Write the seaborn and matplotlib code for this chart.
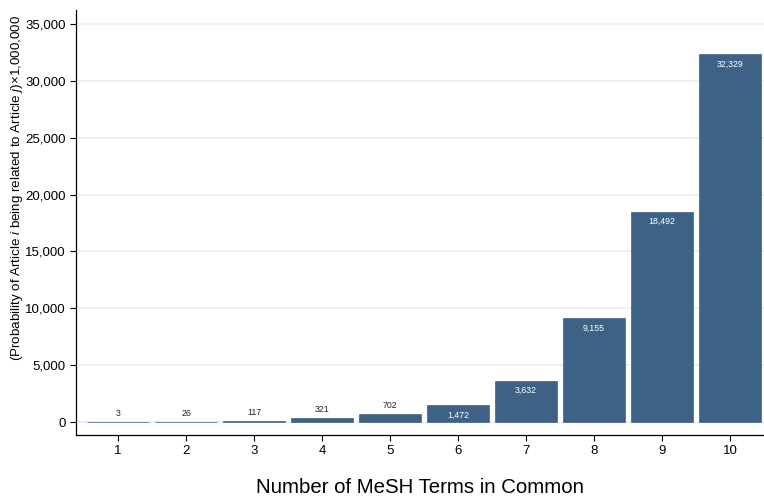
import matplotlib
matplotlib.use("Agg")
import matplotlib.pyplot as plt
import seaborn as sns
import pandas as pd

terms = ["1", "2", "3", "4", "5", "6", "7", "8", "9", "10"]
probability = [3, 26, 117, 321, 702, 1472, 3632, 9155, 18492, 32329]
y_ticks = [0, 5000, 10000, 15000, 20000, 25000, 30000, 35000]

sns.set_theme(style="white")
plt.rcParams['font.family'] = ['Liberation Sans', 'DejaVu Sans']
plt.rcParams['mathtext.fontset'] = 'custom'
plt.rcParams['mathtext.rm'] = 'Liberation Sans'
plt.rcParams['mathtext.it'] = 'Liberation Sans:italic'
plt.rcParams['text.color'] = 'black'
plt.rcParams['axes.labelcolor'] = 'black'
plt.rcParams['xtick.color'] = 'black'
plt.rcParams['ytick.color'] = 'black'

df = pd.DataFrame({"terms": terms, "prob": probability})

fig = plt.figure(figsize=(7.64, 4.96), dpi=100)
ax = fig.add_axes([76/764, 61/496, 688/764, 425/496])

for t in y_ticks:
    ax.axhline(t, color="#e9eef3", lw=1.2, zorder=0)

sns.barplot(data=df, x="terms", y="prob", color="#3d6285", saturation=1,
            width=0.92, ax=ax, zorder=2, edgecolor="#3d6285", linewidth=0.5)

ax.set_xlim(-0.62, 9.5)
ax.set_ylim(-1143, 36230)
ax.set_yticks(y_ticks)
ax.set_yticklabels([f"{v:,}" for v in y_ticks], fontsize=9.5)
ax.tick_params(axis="x", labelsize=9.5, length=4, width=0.8, color="black", bottom=True)
ax.tick_params(axis="y", length=4, width=0.8, color="black", left=True)

for i, v in enumerate(probability):
    if v < 1000:
        ax.annotate(f"{v:,}", (i, v), xytext=(0, 3), textcoords="offset points",
                    ha="center", va="bottom", fontsize=6.3, color="#222222")
    else:
        ax.annotate(f"{v:,}", (i, v), xytext=(0, -4), textcoords="offset points",
                    ha="center", va="top", fontsize=6.3, color="white")

for s in ["top", "right"]:
    ax.spines[s].set_visible(False)
for s in ["left", "bottom"]:
    ax.spines[s].set_color("black")
    ax.spines[s].set_linewidth(0.9)

ax.set_xlabel("Number of MeSH Terms in Common", fontsize=14.7, labelpad=14.5)
ax.set_ylabel(r"(Probability of Article $i$ being related to Article $j$)×1,000,000",
              fontsize=9.6)
ax.yaxis.set_label_coords((25 - 76) / 688, (435 - 188) / 425)

fig.savefig("out.png", dpi=100)
